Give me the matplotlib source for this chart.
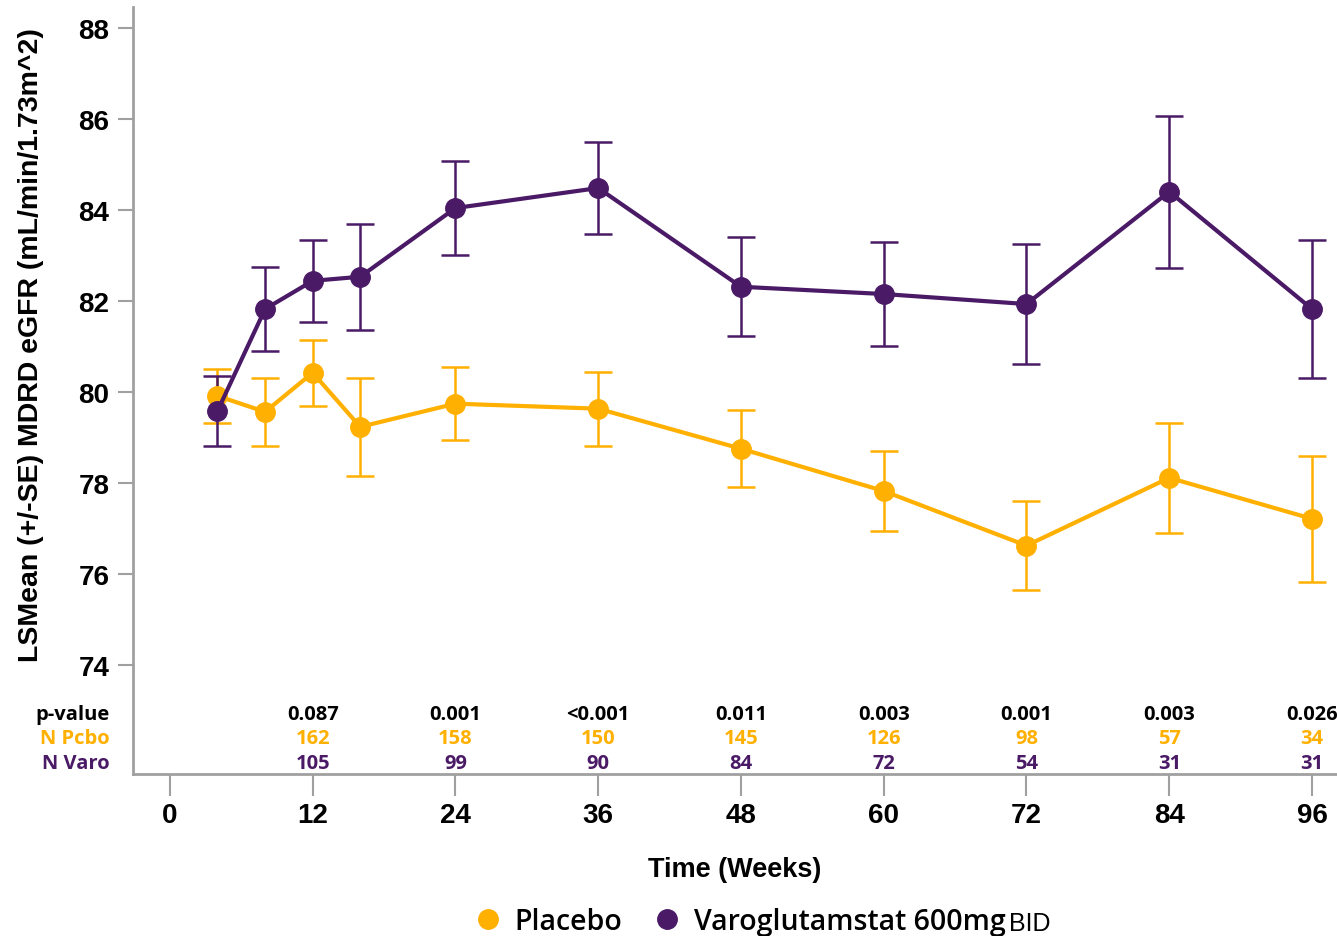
import numpy as np
import matplotlib.pyplot as plt
from matplotlib.lines import Line2D
from matplotlib.transforms import blended_transform_factory

# LS mean eGFR by visit week, with standard errors
weeks = [4, 8, 12, 16, 24, 36, 48, 60, 72, 84, 96]
pcbo_mean = [79.91, 79.56, 80.42, 79.23, 79.74, 79.63, 78.75, 77.82, 76.62, 78.11, 77.21]
pcbo_se = [0.59, 0.74, 0.73, 1.07, 0.80, 0.81, 0.85, 0.87, 0.97, 1.21, 1.38]
varo_mean = [79.58, 81.82, 82.44, 82.53, 84.04, 84.48, 82.31, 82.15, 81.93, 84.40, 81.82]
varo_se = [0.77, 0.93, 0.90, 1.17, 1.04, 1.02, 1.09, 1.15, 1.31, 1.67, 1.51]

# table rows under the plot
table_weeks = [12, 24, 36, 48, 60, 72, 84, 96]
p_values = ['0.087', '0.001', '<0.001', '0.011', '0.003', '0.001', '0.003', '0.026']
n_pcbo = ['162', '158', '150', '145', '126', '98', '57', '34']
n_varo = ['105', '99', '90', '84', '72', '54', '31', '31']

x_ticks = [0, 12, 24, 36, 48, 60, 72, 84, 96]
y_ticks = [74, 76, 78, 80, 82, 84, 86, 88]

ORANGE = '#FFB000'
PURPLE = '#4A1A66'
GRAY = '#A0A0A0'

fig = plt.figure(figsize=(13.37, 9.37), dpi=100)
ax = fig.add_axes([0.0995, 0.1729, 0.9005, 0.8186])

for mean, se, col in [(pcbo_mean, pcbo_se, ORANGE), (varo_mean, varo_se, PURPLE)]:
    ax.errorbar(weeks, mean, yerr=se, color=col, ecolor=col, elinewidth=1.8,
                capsize=10, capthick=1.8, lw=3, marker='o', ms=14, mec=col,
                clip_on=False)

ax.set_xlim(-3.1, 98.1)
ax.set_ylim(71.6, 88.46)
ax.set_xticks(x_ticks)
ax.set_yticks(y_ticks)
ax.set_xticklabels([str(t) for t in x_ticks], fontsize=20, fontweight='bold',
                   family='Liberation Sans')
ax.set_yticklabels([str(t) for t in y_ticks], fontsize=20, fontweight='bold',
                   family='Liberation Sans')
ax.tick_params(axis='y', length=11, width=1.5, color=GRAY, pad=6)
ax.tick_params(axis='x', length=16, width=1.5, color=GRAY, pad=4)
for s in ['top', 'right']:
    ax.spines[s].set_visible(False)
for s in ['left', 'bottom']:
    ax.spines[s].set_color(GRAY)
    ax.spines[s].set_linewidth(2)

ax.set_xlabel('Time (Weeks)', fontsize=19.5, fontweight='bold',
              family='Liberation Sans', labelpad=20)
ax.set_ylabel('LSMean (+/-SE) MDRD eGFR (mL/min/1.73m^2)', fontsize=20.5,
              fontweight='bold', family='Liberation Sans')
ax.yaxis.set_label_coords(-0.074, 0.56)

# p-value and N table inside the lower part of the axes
tfont = dict(fontsize=14.5, fontweight='bold', family='Open Sans',
             ha='center', va='center')
rows = [(p_values, 72.92, 'black'), (n_pcbo, 72.39, ORANGE), (n_varo, 71.84, PURPLE)]
for vals, yv, col in rows:
    for wk, v in zip(table_weeks, vals):
        ax.text(wk, yv, v, color=col, clip_on=False, **tfont)

trans = blended_transform_factory(fig.transFigure, ax.transData)
lfont = dict(fontsize=14.5, fontweight='bold', family='Open Sans',
             ha='right', va='center', transform=trans)
ax.text(110 / 1337, 72.92, 'p-value', color='black', **lfont)
ax.text(110 / 1337, 72.39, 'N Pcbo', color=ORANGE, **lfont)
ax.text(110 / 1337, 71.84, 'N Varo', color=PURPLE, **lfont)

# legend along the bottom
handles = [Line2D([], [], ls='none', marker='o', ms=14, color=ORANGE),
           Line2D([], [], ls='none', marker='o', ms=14, color=PURPLE)]
leg = fig.legend(handles, ['Placebo', 'Varoglutamstat 600mg'], loc='center',
                 bbox_to_anchor=(0.552, 0.016), ncol=2, frameon=False,
                 handletextpad=0.35, columnspacing=0.95, handlelength=1.2,
                 prop=dict(family='Open Sans', weight='semibold', size=20.5))
fig.canvas.draw()
bb0 = leg.get_texts()[0].get_window_extent()
bb = leg.get_texts()[-1].get_window_extent()
fig.text((bb.x1 + 4) / fig.bbox.width, (bb0.y0 + 6) / fig.bbox.height,
         'BID', fontsize=18, family='Liberation Sans', va='baseline', ha='left')

fig.savefig('out.png', dpi=100)
